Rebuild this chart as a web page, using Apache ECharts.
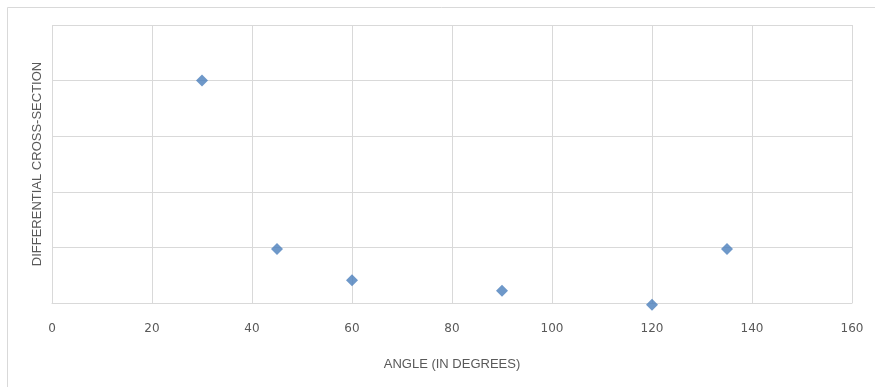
<!DOCTYPE html>
<html>
<head>
<meta charset="utf-8">
<script src="https://cdn.jsdelivr.net/npm/echarts@6/dist/echarts.min.js"></script>
<style>html,body{margin:0;padding:0;background:#fff;}#c{width:875px;height:387px;}</style>
</head>
<body>
<div id="c"></div>
<script>
const angles = [30, 45, 60, 90, 120, 135];
const crossSection = [4.0, 0.97, 0.41, 0.22, -0.03, 0.97];
const xTicks = [0, 20, 40, 60, 80, 100, 120, 140, 160];

const chart = echarts.init(document.getElementById('c'), null, {renderer: 'canvas'});
chart.setOption({
  animation: false,
  backgroundColor: '#ffffff',
  graphic: [{
    type: 'rect', shape: {x: 7.5, y: 7.5, width: 900, height: 400},
    style: {fill: 'none', stroke: '#d9d9d9', lineWidth: 1}, silent: true
  }],
  grid: {left: 52, right: 23, top: 25, bottom: 84},
  xAxis: {
    type: 'value', min: xTicks[0], max: xTicks[xTicks.length - 1], interval: 20,
    name: 'ANGLE (IN DEGREES)', nameLocation: 'middle', nameGap: 55,
    nameTextStyle: {color: '#595959', fontSize: 13, fontFamily: 'Liberation Sans, sans-serif'},
    axisLine: {show: true, lineStyle: {color: '#d9d9d9', width: 1}},
    axisTick: {show: false},
    axisLabel: {color: '#595959', fontSize: 12, fontFamily: 'DejaVu Sans, sans-serif', margin: 20},
    splitLine: {show: true, lineStyle: {color: '#d9d9d9', width: 1}}
  },
  yAxis: {
    type: 'value', min: 0, max: 5, interval: 1,
    name: 'DIFFERENTIAL CROSS-SECTION', nameLocation: 'middle', nameGap: 8, nameRotate: 90,
    nameTextStyle: {color: '#595959', fontSize: 13, fontFamily: 'Liberation Sans, sans-serif'},
    axisLine: {show: false},
    axisTick: {show: false},
    axisLabel: {show: false},
    splitLine: {show: true, lineStyle: {color: '#d9d9d9', width: 1}}
  },
  series: [{
    type: 'scatter',
    clip: false,
    symbol: 'diamond',
    symbolSize: 12,
    itemStyle: {color: '#4a7ebb'},
    data: angles.map((a, i) => [a, crossSection[i]])
  }]
});
</script>
</body>
</html>
